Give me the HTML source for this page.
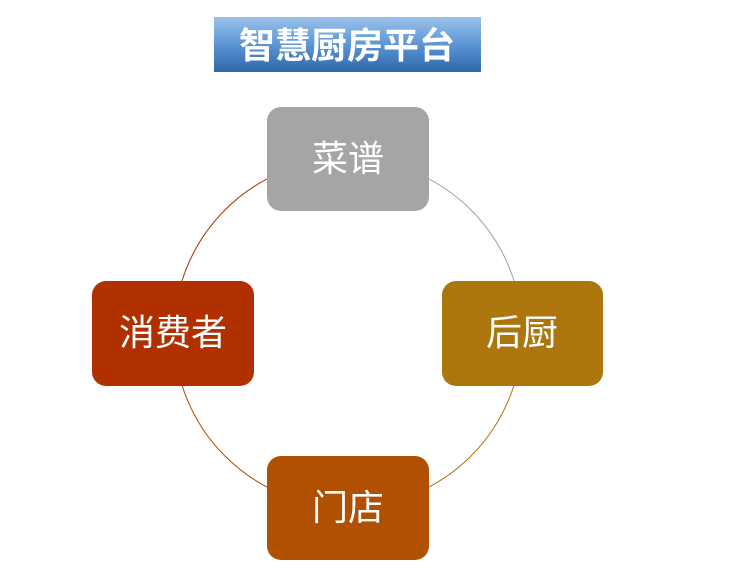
<!DOCTYPE html>
<html><head><meta charset="utf-8"><style>
html,body{margin:0;padding:0;background:#fff;width:733px;height:585px;overflow:hidden}
svg text{font-family:"Liberation Sans","Noto Sans CJK SC",sans-serif}
</style></head><body>
<svg width="733" height="585" viewBox="0 0 733 585">
<defs>
<linearGradient id="g" x1="0" y1="0" x2="0" y2="1">
<stop offset="0" stop-color="#9cc3ea"/><stop offset="0.5" stop-color="#5b95d6"/><stop offset="1" stop-color="#2f68a8"/>
</linearGradient>
</defs>
<rect x="214" y="17" width="267" height="55" fill="url(#g)"/>
<text x="347" y="58" font-size="36" font-weight="bold" fill="#fff" text-anchor="middle" style="font-family:'Noto Sans CJK SC',sans-serif">智慧厨房平台</text>
<g fill="none" stroke-width="1">
<path d="M348 159 A174 174 0 0 1 522 333" stroke="#a0a0a0"/>
<path d="M522 333 A174 174 0 0 1 348 507" stroke="#ad760f"/>
<path d="M348 507 A174 174 0 0 1 174 333" stroke="#b05000"/>
<path d="M174 333 A174 174 0 0 1 348 159" stroke="#b03000"/>
</g>
<rect x="267" y="107" width="162" height="104" rx="14" fill="#a5a5a5"/>
<rect x="442" y="281" width="161" height="105" rx="14" fill="#ad760c"/>
<rect x="92" y="281" width="162" height="105" rx="14" fill="#b03000"/>
<rect x="267" y="456" width="162" height="104" rx="14" fill="#b05000"/>
<g fill="#fff" font-size="36" text-anchor="middle" style="font-family:'Noto Sans CJK SC',sans-serif">
<text x="348" y="171">菜谱</text>
<text x="522" y="345">后厨</text>
<text x="173" y="345">消费者</text>
<text x="348" y="520">门店</text>
</g>
</svg>
</body></html>
